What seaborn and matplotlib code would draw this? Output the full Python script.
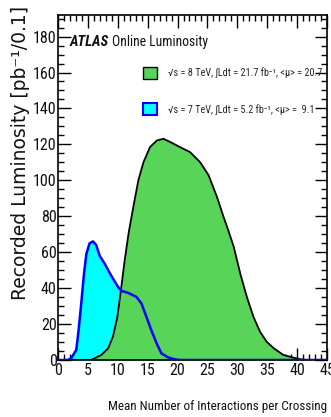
import numpy as np
import pandas as pd
import matplotlib
matplotlib.use("Agg")
import matplotlib.pyplot as plt
from matplotlib.patches import Patch
from matplotlib.ticker import MultipleLocator
import seaborn as sns

# ---- data ----
mu_8tev = [0, 5.5, 6.1, 7.26, 8.4, 9.2, 9.94, 10.5, 11.17, 11.84, 12.6, 13.45, 14.3, 15.4, 16.55,
           17.66, 18.8, 20.4, 22.1, 23.8, 25.2, 26.6, 27.7, 28.3, 29.4, 30.5, 31.6, 32.7, 33.8,
           34.9, 36.1, 37.7, 39.4, 40.5, 41.5, 45]
lumi_8tev = [0, 0, 0.9, 2.8, 6.5, 13, 24, 38, 55.6, 71, 85, 100, 110, 118.5, 122.2,
             123.1, 121.3, 118.5, 115.7, 110, 102.8, 90.7, 79.6, 74, 63, 48, 35, 24, 15.7,
             10.2, 6.5, 2.8, 1.3, 0.4, 0, 0]

mu_7tev = [0, 1.6, 2.2, 3.07, 3.46, 3.9, 4.36, 4.75, 5.3, 5.86, 6.4, 6.98, 7.8, 8.9, 10.05,
           10.6, 11.7, 13.1, 13.96, 14.8, 15.6, 16.5, 17.3, 18.4, 19.5, 20.5, 45]
lumi_7tev = [0, 0, 0.9, 5.6, 16.7, 31.5, 48, 59, 65, 66, 64, 58, 53.7, 47, 40.7,
             38.5, 37.4, 35.2, 31.5, 24, 16.7, 9.3, 3.7, 1.5, 0.4, 0, 0]

legend_labels = ["√s = 8 TeV, ∫Ldt = 21.7 fb⁻¹, <μ> = 20.7",
                 "√s = 7 TeV, ∫Ldt = 5.2 fb⁻¹, <μ> =  9.1"]

df8 = pd.DataFrame({"mu": mu_8tev, "lumi": lumi_8tev})
df7 = pd.DataFrame({"mu": mu_7tev, "lumi": lumi_7tev})

sns.set_theme(style="white")
cond = ["Roboto Condensed", "DejaVu Sans"]
plt.rcParams["font.family"] = cond

fig = plt.figure(figsize=(3.31, 4.17), dpi=100)
ax = fig.add_axes([0.175, 0.1367, 0.813, 0.8273])

green = "#58d558"
cyan = "#00ffff"

ax.fill_between(df7["mu"], df7["lumi"], color=cyan, lw=0, zorder=1)
ax.fill_between(df8["mu"], df8["lumi"], color=green, lw=0, zorder=2)
sns.lineplot(data=df8, x="mu", y="lumi", ax=ax, color="black", lw=1.3, zorder=3)
sns.lineplot(data=df7, x="mu", y="lumi", ax=ax, color="#0000ff", lw=1.8, zorder=4)

ax.set_xlim(0, 45)
ax.set_ylim(0, 192)
ax.xaxis.set_major_locator(MultipleLocator(5))
ax.xaxis.set_minor_locator(MultipleLocator(1))
ax.yaxis.set_major_locator(MultipleLocator(20))
ax.yaxis.set_minor_locator(MultipleLocator(5))
ax.tick_params(which="both", direction="in", top=True, right=True, bottom=True, left=True,
               color="black", width=1.0, labelsize=11.5, labelcolor="#111111")
ax.tick_params(which="major", length=9)
ax.tick_params(which="minor", length=4.5)
ax.tick_params(axis="x", pad=2)
ax.tick_params(axis="y", pad=1)
for s in ax.spines.values():
    s.set_color("black")
    s.set_linewidth(1.2)

ax.set_xlabel("Mean Number of Interactions per Crossing", fontsize=9.4, loc="right",
              labelpad=16, color="#111111")
ax.set_ylabel("Recorded Luminosity [pb⁻¹/0.1]", fontsize=13.5, loc="bottom",
              family=["DejaVu Sans"], color="#111111")
ax.yaxis.set_label_coords(-0.104, 0.174)

ax.text(0.045, 0.922, "ATLAS", transform=ax.transAxes, fontsize=10.5, fontweight="bold",
        fontstyle="italic", va="center", ha="left", color="#111111")
ax.text(0.2, 0.922, "Online Luminosity", transform=ax.transAxes, fontsize=9.8,
        va="center", ha="left", color="#111111")

handles = [Patch(facecolor=green, edgecolor="black", lw=1.0),
           Patch(facecolor=cyan, edgecolor="#0000ff", lw=1.5)]
ax.legend(handles, legend_labels, loc="upper left", bbox_to_anchor=(0.316, 0.85),
          frameon=False, fontsize=7.4, handlelength=1.4, handleheight=1.4,
          handletextpad=1.05, labelspacing=2.4, borderpad=0, borderaxespad=0)

fig.savefig("out.png", dpi=100)
